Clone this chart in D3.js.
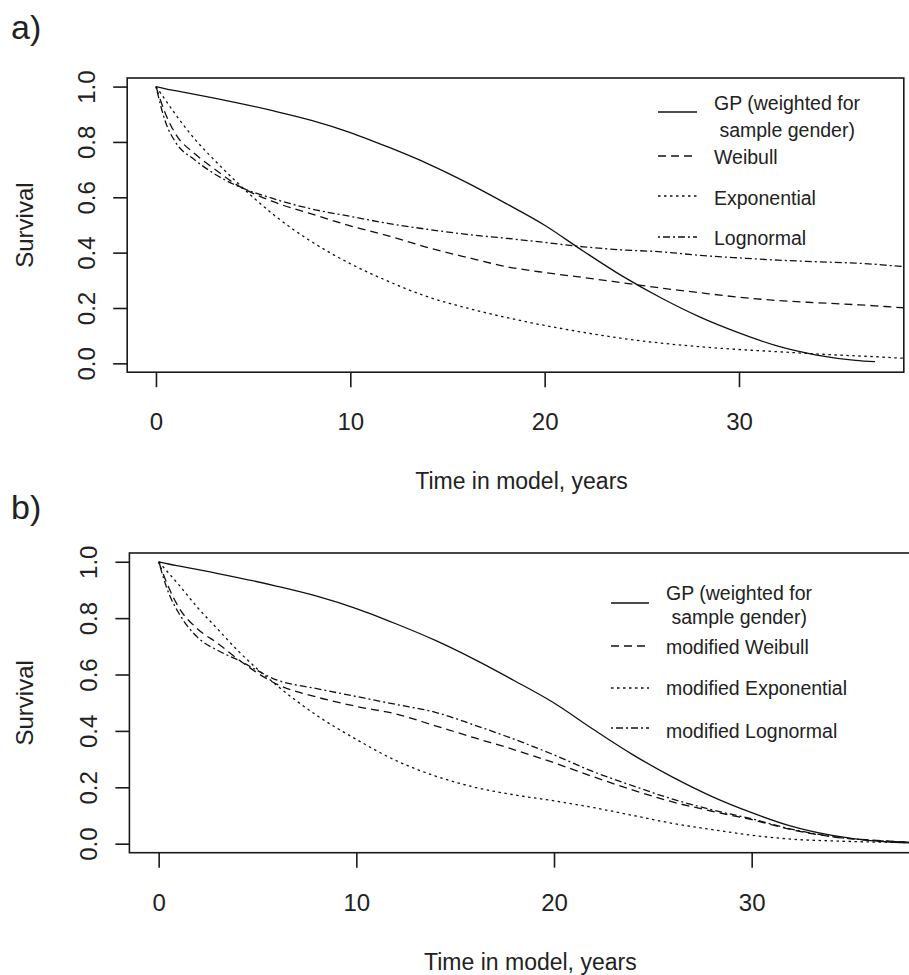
<!DOCTYPE html>
<html>
<head>
<meta charset="utf-8">
<script src="https://cdn.jsdelivr.net/npm/d3@7"></script>
<style>
  body { margin: 0; background: #fff; }
  text { font-family: "Liberation Sans", Arial, sans-serif; fill: #222; }
</style>
</head>
<body>
<div id="chart"></div>
<script>
// time points (years) used by every curve
var years = [0, 0.5, 1, 2, 3, 4, 6, 8, 10, 12, 14, 16, 18, 20, 22, 24, 26, 28, 30, 32, 34, 36, 37, 38, 40];

// general population survival (same in both panels)
var gp = [1.0, 0.992, 0.985, 0.972, 0.958, 0.944, 0.913, 0.878, 0.834, 0.780, 0.721, 0.653, 0.578, 0.499, 0.405, 0.315, 0.236, 0.167, 0.110, 0.062, 0.030, 0.011, 0.006, 0.003, 0.001];

// panel a: fitted models
var weibull     = [1.0, 0.90, 0.83, 0.757, 0.703, 0.652, 0.585, 0.54, 0.497, 0.46, 0.418, 0.383, 0.35, 0.328, 0.31, 0.291, 0.272, 0.255, 0.239, 0.227, 0.219, 0.212, 0.208, 0.203, 0.195];
var exponential = [1.0, 0.95, 0.90, 0.81, 0.735, 0.665, 0.54, 0.44, 0.36, 0.295, 0.24, 0.20, 0.166, 0.137, 0.112, 0.09, 0.073, 0.06, 0.05, 0.042, 0.034, 0.027, 0.024, 0.02, 0.016];
var lognormal   = [1.0, 0.87, 0.80, 0.735, 0.685, 0.647, 0.596, 0.558, 0.531, 0.505, 0.484, 0.466, 0.452, 0.437, 0.421, 0.41, 0.403, 0.39, 0.381, 0.373, 0.367, 0.362, 0.358, 0.352, 0.346];

// panel b: modified models
var modWeibull     = [1.0, 0.91, 0.84, 0.76, 0.71, 0.655, 0.565, 0.52, 0.487, 0.46, 0.418, 0.375, 0.333, 0.287, 0.237, 0.19, 0.148, 0.115, 0.085, 0.05, 0.025, 0.013, 0.009, 0.006, 0.003];
var modExponential = [1.0, 0.96, 0.92, 0.835, 0.76, 0.685, 0.56, 0.455, 0.37, 0.295, 0.24, 0.20, 0.173, 0.152, 0.128, 0.10, 0.072, 0.05, 0.03, 0.016, 0.01, 0.006, 0.005, 0.004, 0.003];
var modLognormal   = [1.0, 0.89, 0.82, 0.73, 0.685, 0.652, 0.58, 0.55, 0.522, 0.494, 0.466, 0.42, 0.37, 0.315, 0.255, 0.205, 0.158, 0.12, 0.088, 0.052, 0.026, 0.012, 0.008, 0.005, 0.003];

var legendA = ["GP (weighted for\n sample gender)", "Weibull", "Exponential", "Lognormal"];
var legendB = ["GP (weighted for\n sample gender)", "modified Weibull", "modified Exponential", "modified Lognormal"];

var xTicks = [0, 10, 20, 30];
var yTicks = [0, 0.2, 0.4, 0.6, 0.8, 1.0];

var W = 909, H = 975;
var dashes = [null, "8,5", "2.5,3.5", "2,3,7,3"];

var svg = d3.select("#chart").append("svg")
    .attr("width", W)
    .attr("height", H);

function drawPanel(p) {
  var x = d3.scaleLinear().domain([-1.48, 38.48]).range([p.left, p.right]);
  var y = d3.scaleLinear().domain([-0.032, 1.031]).range([p.bottom, p.top]);
  var g = svg.append("g");

  // panel tag
  g.append("text")
    .attr("x", 11)
    .attr("y", p.tagY)
    .style("font-size", "34px")
    .text(p.tag);

  var clipId = "clip" + p.id;
  g.append("clipPath").attr("id", clipId)
    .append("rect")
      .attr("x", p.left).attr("y", p.top)
      .attr("width", p.right - p.left).attr("height", p.bottom - p.top);

  // curves
  var line = d3.line()
    .defined(function(d) { return d.v != null; })
    .x(function(d) { return x(d.t); })
    .y(function(d) { return y(d.v); })
    .curve(d3.curveMonotoneX);

  p.series.forEach(function(s, i) {
    var pts = years.map(function(t, k) { return {t: t, v: s.values[k]}; })
      .filter(function(d) { return d.t <= s.end; });
    g.append("path")
      .datum(pts)
      .attr("clip-path", "url(#" + clipId + ")")
      .attr("fill", "none")
      .attr("stroke", "#111")
      .attr("stroke-width", 1.3)
      .attr("stroke-dasharray", dashes[i])
      .attr("d", line);
  });

  // box
  g.append("rect")
    .attr("x", p.left).attr("y", p.top)
    .attr("width", p.right - p.left).attr("height", p.bottom - p.top)
    .attr("fill", "none")
    .attr("stroke", "#1a1a1a")
    .attr("stroke-width", 1.6);

  // x axis
  var gx = g.append("g")
    .attr("transform", "translate(0," + p.bottom + ")")
    .call(d3.axisBottom(x).tickValues(xTicks).tickSize(15).tickFormat(d3.format("d")));
  gx.select(".domain").remove();
  gx.selectAll("line").attr("stroke", "#1a1a1a").attr("stroke-width", 1.6);
  gx.selectAll("text")
    .attr("y", 58).attr("dy", null)
    .attr("fill", "#222")
    .style("font-size", "24px")
    .style("font-family", "Liberation Sans, Arial, sans-serif");

  // y axis
  var gy = g.append("g")
    .attr("transform", "translate(" + p.left + ",0)")
    .call(d3.axisLeft(y).tickValues(yTicks).tickSize(14).tickFormat(d3.format(".1f")));
  gy.select(".domain").remove();
  gy.selectAll("line").attr("stroke", "#1a1a1a").attr("stroke-width", 1.6);
  gy.selectAll("text")
    .attr("x", null).attr("dy", null)
    .attr("transform", "translate(-32,0) rotate(-90)")
    .attr("text-anchor", "middle")
    .attr("fill", "#222")
    .style("font-size", "24px")
    .style("font-family", "Liberation Sans, Arial, sans-serif");

  // axis titles
  g.append("text")
    .attr("x", (p.left + p.right) / 2 + 6)
    .attr("y", p.bottom + 117)
    .attr("text-anchor", "middle")
    .style("font-size", "23px")
    .text("Time in model, years");

  g.append("text")
    .attr("transform", "translate(33," + (p.top + p.bottom) / 2 + ") rotate(-90)")
    .attr("text-anchor", "middle")
    .style("font-size", "24px")
    .text("Survival");

  // legend
  var lg = p.legend;
  p.labels.forEach(function(lab, i) {
    var ly = lg.lineY[i];
    g.append("line")
      .attr("x1", lg.x1).attr("x2", lg.x2)
      .attr("y1", ly).attr("y2", ly)
      .attr("stroke", "#111")
      .attr("stroke-width", 1.3)
      .attr("stroke-dasharray", dashes[i]);
    var t = g.append("text")
      .attr("x", lg.tx)
      .attr("y", lg.textY[i])
      .style("font-size", "19.5px")
      .style("white-space", "pre");
    lab.split("\n").forEach(function(part, j) {
      t.append("tspan")
        .attr("x", lg.tx)
        .attr("dy", j === 0 ? "0.35em" : lg.lineGap)
        .text(part);
    });
  });
}

drawPanel({
  id: "a", tag: "a)", tagY: 39,
  left: 127.2, right: 903.8, top: 78, bottom: 372.2,
  series: [
    {values: gp, end: 37},
    {values: weibull, end: 40},
    {values: exponential, end: 40},
    {values: lognormal, end: 40}
  ],
  labels: legendA,
  legend: {x1: 658, x2: 697, tx: 714, lineGap: 27,
           lineY: [112, 156, 196, 237], textY: [103, 157, 198, 238]}
});

drawPanel({
  id: "b", tag: "b)", tagY: 519,
  left: 129.4, right: 919.3, top: 553, bottom: 852.7,
  series: [
    {values: gp, end: 40},
    {values: modWeibull, end: 40},
    {values: modExponential, end: 40},
    {values: modLognormal, end: 40}
  ],
  labels: legendB,
  legend: {x1: 611, x2: 649, tx: 666, lineGap: 24,
           lineY: [603, 646, 688, 728], textY: [593, 647, 688, 731]}
});
</script>
</body>
</html>
